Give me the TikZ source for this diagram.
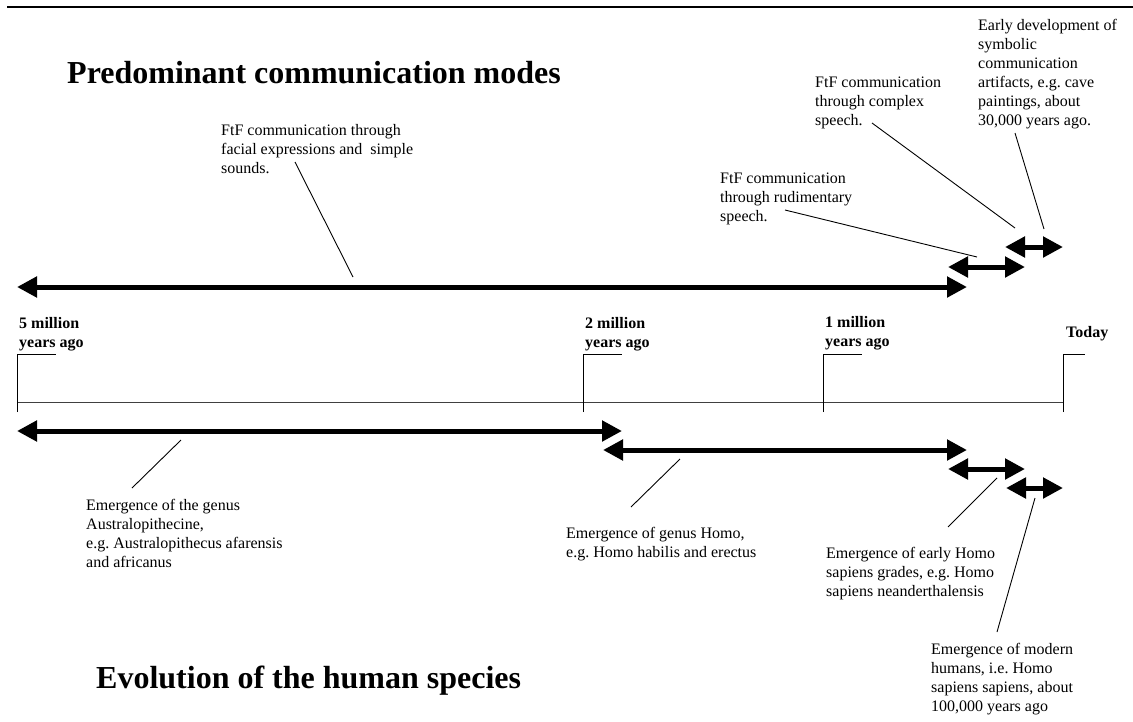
\documentclass[tikz,border=0pt]{standalone}
\usepackage{fontspec}
\setmainfont{Liberation Serif}
\usetikzlibrary{
  arrows.meta
}

\begin{document}
\begin{tikzpicture}[
          x=1pt,y=-1pt,
          period/.style={
              line width=5pt,
              {Triangle[length=20pt,width=20pt]}-{Triangle[length=20pt,width=20pt]}
            },leader/.style={
              line width=.9pt
            },note/.style={
              anchor=north west,
              inner sep=0pt,
              align=left,
              font=\fontsize{16}{19}\selectfont\frenchspacing
            },era/.style={
              note,
              font=\fontsize{16}{19}\selectfont\bfseries
            },heading/.style={
              anchor=base west,
              inner sep=0pt,
              font=\fontsize{32}{38}\selectfont\bfseries
            }
        ]
        \useasboundingbox (0,0) rectangle (1133,721);

        % 上端の罫線
        \draw[line width=2pt] (7,7) -- (1133,7);

        % 見出し
        \node[heading] (modes_title) at (67,83) {Predominant communication modes};
        \node[heading] (species_title) at (96,688) {Evolution of the human species};

        % 時間軸
        \draw[line width=1pt,black!75] (17,402) -- (1063,402);
        \foreach \x/\w in {17/39,583/39,823/39,1063/22}
          \draw[line width=1pt] (\x,412) -- (\x,354) -- ++(\w,0);
        \node[era] (five_myr) at (19,317.5) {5 million\\years ago};
        \node[era] (two_myr) at (585,317.5) {2 million\\years ago};
        \node[era] (one_myr) at (825,316.5) {1 million\\years ago};
        \node[era] (today) at (1066,326.5) {Today};

        % 座標の定義
        \coordinate (facial_start) at (17,287);
        \coordinate (facial_end) at (967,287);
        \coordinate (rudimentary_start) at (948,267);
        \coordinate (rudimentary_end) at (1025,267);
        \coordinate (symbolic_start) at (1005,247);
        \coordinate (symbolic_end) at (1063,247);
        \coordinate (australo_start) at (17,431);
        \coordinate (australo_end) at (622,431);
        \coordinate (homo_start) at (603,450);
        \coordinate (homo_end) at (967,450);
        \coordinate (early_start) at (948,469);
        \coordinate (early_end) at (1025,469);
        \coordinate (modern_start) at (1006,488);
        \coordinate (modern_end) at (1063,488);

        % コミュニケーション様式の期間
        \draw[period] (facial_start) -- (facial_end);
        \draw[period] (rudimentary_start) -- (rudimentary_end);
        \draw[period] (symbolic_start) -- (symbolic_end);

        % 人類の進化の期間
        \draw[period] (australo_start) -- (australo_end);
        \draw[period] (homo_start) -- (homo_end);
        \draw[period] (early_start) -- (early_end);
        \draw[period] (modern_start) -- (modern_end);

        % 説明文
        \node[note] (facial) at (221,124.5) {FtF communication through\\facial expressions and\ \ simple\\sounds.};
        \node[note] (rudimentary) at (720,172.5) {FtF communication\\through rudimentary\\speech.};
        \node[note] (complex) at (815,76.5) {FtF communication\\through complex\\speech.};
        \node[note] (symbolic) at (978,19.5) {Early development of\\symbolic\\communication\\artifacts, e.g. cave\\paintings, about\\30,000 years ago.};
        \node[note] (australo) at (86,499.5) {Emergence of the genus\\Australopithecine,\\e.g. Australopithecus afarensis\\and africanus};
        \node[note] (homo) at (566,527.5) {Emergence of genus Homo,\\e.g. Homo habilis and erectus};
        \node[note] (early) at (826,547.5) {Emergence of early Homo\\sapiens grades, e.g. Homo\\sapiens neanderthalensis};
        \node[note] (modern) at (931,643.5) {Emergence of modern\\humans, i.e. Homo\\sapiens sapiens, about\\100,000 years ago};

        % 引き出し線
        \coordinate (facial_lead) at (295,162);
        \coordinate (facial_mark) at (353,277);
        \coordinate (rudimentary_lead) at (785,210);
        \coordinate (rudimentary_mark) at (977,257);
        \coordinate (complex_lead) at (872,123);
        \coordinate (complex_mark) at (1015,228);
        \coordinate (symbolic_lead) at (1015,133);
        \coordinate (symbolic_mark) at (1044,229);
        \coordinate (australo_lead) at (132,488);
        \coordinate (australo_mark) at (181,440);
        \coordinate (homo_lead) at (631,507);
        \coordinate (homo_mark) at (680,459);
        \coordinate (early_lead) at (948,527);
        \coordinate (early_mark) at (997,478);
        \coordinate (modern_lead) at (997,632);
        \coordinate (modern_mark) at (1035,498);
        \foreach \n in {facial,rudimentary,complex,symbolic,australo,homo,early,modern}
          \draw[leader] (\n_lead) -- (\n_mark);

      \end{tikzpicture}
\end{document}
